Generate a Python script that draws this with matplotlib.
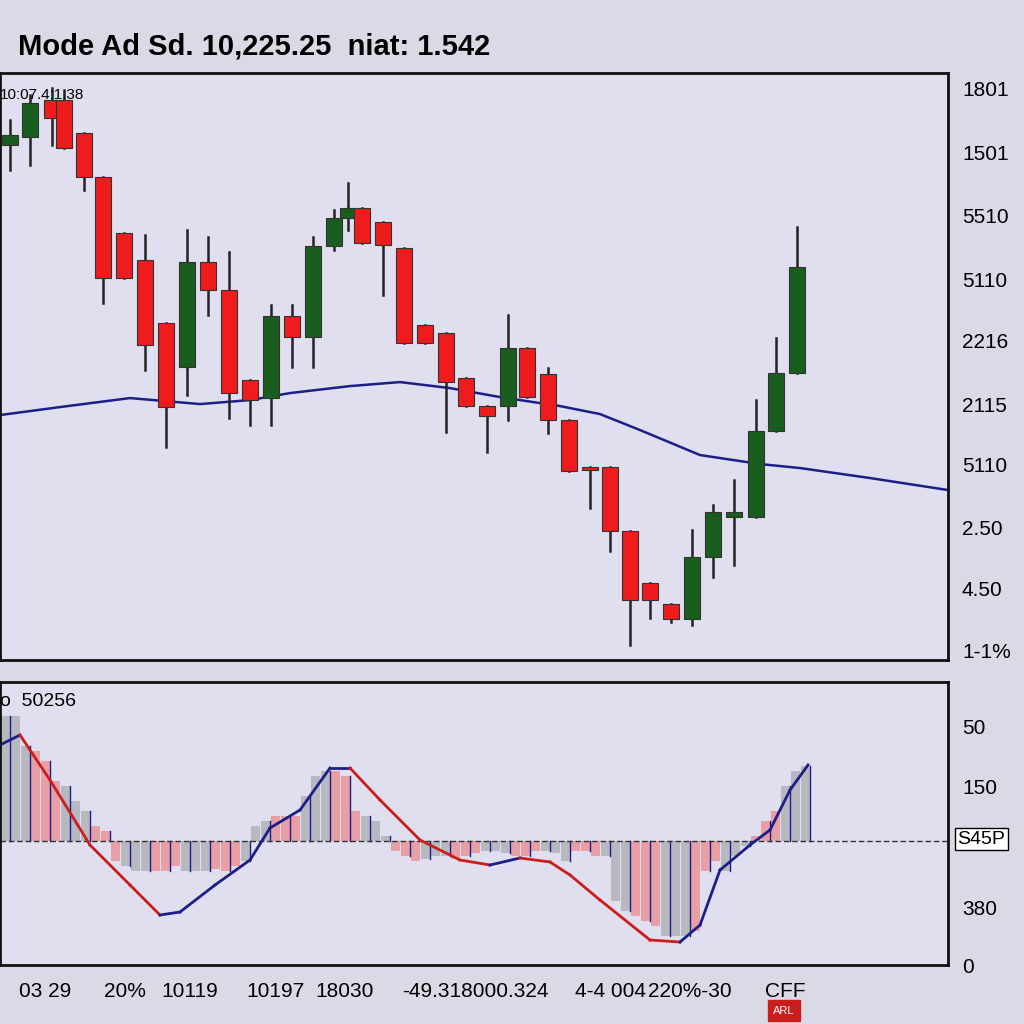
import numpy as np
import matplotlib.pyplot as plt
from matplotlib.patches import Rectangle

plt.rcParams['font.family'] = ['Liberation Sans', 'DejaVu Sans']

# candle data (x index position, open, close, high, low)
cx = [10, 30, 52, 64, 84, 103, 124, 145, 166, 187, 208, 229, 250, 271, 292, 313, 334, 348, 362, 383,
      404, 425, 446, 466, 487, 508, 527, 548, 569, 590, 610, 630, 650, 671, 692, 713, 734, 756, 776, 797]
opens = [555, 563, 600, 600, 567, 523, 467, 440, 377, 333, 438, 410, 320, 302, 384, 363, 454, 482, 492, 478,
         452, 375, 367, 322, 294, 294, 352, 326, 280, 233, 233, 169, 117, 96, 81, 143, 183, 183, 269, 327]
closes = [565, 597, 582, 552, 523, 422, 422, 355, 293, 438, 410, 307, 300, 384, 363, 454, 482, 492, 457, 455,
          357, 357, 318, 294, 284, 352, 303, 280, 229, 230, 169, 100, 100, 81, 143, 188, 188, 269, 327, 433]
highs = [580, 605, 612, 610, 567, 523, 467, 465, 377, 470, 463, 448, 320, 395, 395, 463, 490, 517, 492, 478,
         452, 375, 367, 322, 294, 385, 352, 332, 280, 233, 233, 169, 117, 96, 170, 195, 220, 300, 362, 473]
lows = [530, 535, 555, 552, 510, 397, 422, 330, 253, 305, 385, 282, 275, 275, 333, 333, 450, 470, 457, 405,
        357, 357, 268, 294, 248, 280, 303, 267, 229, 192, 149, 55, 82, 78, 75, 123, 135, 183, 269, 327]

ma_x = [0, 60, 130, 200, 250, 290, 350, 400, 450, 500, 560, 600, 640, 700, 760, 800, 870, 948]
ma_y = [285, 293, 302, 296, 300, 307, 314, 318, 312, 303, 294, 286, 270, 245, 236, 232, 222, 210]

price_ticks = [612, 548, 485, 421, 360, 296, 236, 173, 111, 49]
price_labels = ["1801", "1501", "5510", "5110", "2216", "2115", "5110", "2.50", "4.50", "1-1%"]

# oscillator
hist_x = list(range(5, 806, 10))
hist_v = [125, 125, 95, 90, 80, 60, 55, 40, 30, 15, 10, -20, -25, -30, -30, -30, -30, -25, -30, -30,
          -30, -28, -30, -25, -20, 15, 20, 25, 25, 25, 45, 65, 70, 70, 65, 30, 25, 20, 5, -10,
          -15, -20, -18, -15, -15, -18, -15, -12, -10, -10, -12, -15, -15, -10, -10, -12, -20, -10, -10, -15,
          -15, -60, -70, -75, -80, -85, -95, -95, -95, -90, -30, -20, -30, -15, -5, 5, 20, 30, 55, 70, 75]
osc_x = [0, 20, 50, 90, 130, 160, 180, 215, 250, 270, 300, 330, 350, 380, 420, 460, 490, 520, 550, 570,
         600, 650, 680, 700, 720, 750, 770, 790, 808]
osc_y = [96, 106, 61, -4, -44, -74, -71, -44, -19, 13, 31, 73, 73, 41, 1, -19, -24, -17, -21, -34,
         -59, -99, -101, -84, -29, -4, 11, 51, 76]

osc_ticks = [114, 54, -66, -124]
osc_labels = ["50", "150", "380", "0"]
x_ticks = [45, 125, 190, 275, 345, 475, 610, 690, 785]
x_labels = ["03 29", "20%", "10119", "10197", "18030", "-49.318000.324", "4-4 004", "220%-30", "CFF"]

bg = "#d9dae6"
panel = "#e0dfef"
fig = plt.figure(figsize=(10.24, 10.24), dpi=100, facecolor=bg)
ax = fig.add_axes([0, 0.3555, 0.9258, 0.573], facecolor=panel)
ax2 = fig.add_axes([0, 0.0576, 0.9258, 0.2764], facecolor=panel)

for x, o, c, h, l in zip(cx, opens, closes, highs, lows):
    col = "#1a5e1f" if c > o else "#ee1c1c"
    ax.plot([x, x], [l, h], color="#222222", lw=1.8, zorder=2)
    ax.add_patch(Rectangle((x - 8, min(o, c)), 16, max(abs(c - o), 2), facecolor=col,
                           edgecolor="#333333", lw=0.8, zorder=3))
ax.plot(ma_x, ma_y, color="#1c1f88", lw=1.8, zorder=1)
ax.set_xlim(0, 948)
ax.set_ylim(40, 627)
ax.yaxis.tick_right()
ax.set_yticks(price_ticks, price_labels)
ax.set_xticks([])
ax.tick_params(axis="y", length=0, labelsize=15, pad=10)
ax.text(0.0, 0.975, "10:07.4:1.38", transform=ax.transAxes, fontsize=11, va="top")

hcols = ["#b8b8c0" if (i // 3) % 2 == 0 else "#e8a0a6" for i in range(len(hist_x))]
ax2.bar(hist_x, hist_v, width=9, color=hcols, edgecolor="none")
for i in range(len(hist_x)):
    if i % 2 == 0:
        ax2.plot([hist_x[i] + 5, hist_x[i] + 5], [0, hist_v[i]], color="#1c1f88", lw=1)
ax2.axhline(0, color="#333333", lw=1, ls=(0, (4, 2)))
for i in range(len(osc_x) - 1):
    col = "#cc1d1d" if osc_y[i + 1] < osc_y[i] else "#1c1f88"
    ax2.plot(osc_x[i:i + 2], osc_y[i:i + 2], color=col, lw=2)
ax2.set_xlim(0, 948)
ax2.set_ylim(-124, 159)
ax2.yaxis.tick_right()
ax2.set_yticks(osc_ticks, osc_labels)
ax2.set_xticks(x_ticks, x_labels)
ax2.tick_params(axis="y", length=0, labelsize=15, pad=10)
ax2.tick_params(axis="x", length=0, labelsize=15, pad=12)
ax2.text(0.0, 0.96, "o  50256", transform=ax2.transAxes, fontsize=14, va="top")
ax2.text(1.01, 0.445, "S45P", transform=ax2.transAxes, fontsize=14, va="center",
         bbox=dict(facecolor="white", edgecolor="black", pad=2))

for a in (ax, ax2):
    for s in a.spines.values():
        s.set_linewidth(2)
        s.set_color("#111111")

fig.text(0.018, 0.955, "Mode Ad Sd. 10,225.25  niat: 1.542", fontsize=21, fontweight="bold", va="center")
fig.text(0.755, 0.01, "ARL", fontsize=8, color="white", backgroundcolor="#cc1d1d")

fig.savefig("out.png", dpi=100, facecolor=bg)
